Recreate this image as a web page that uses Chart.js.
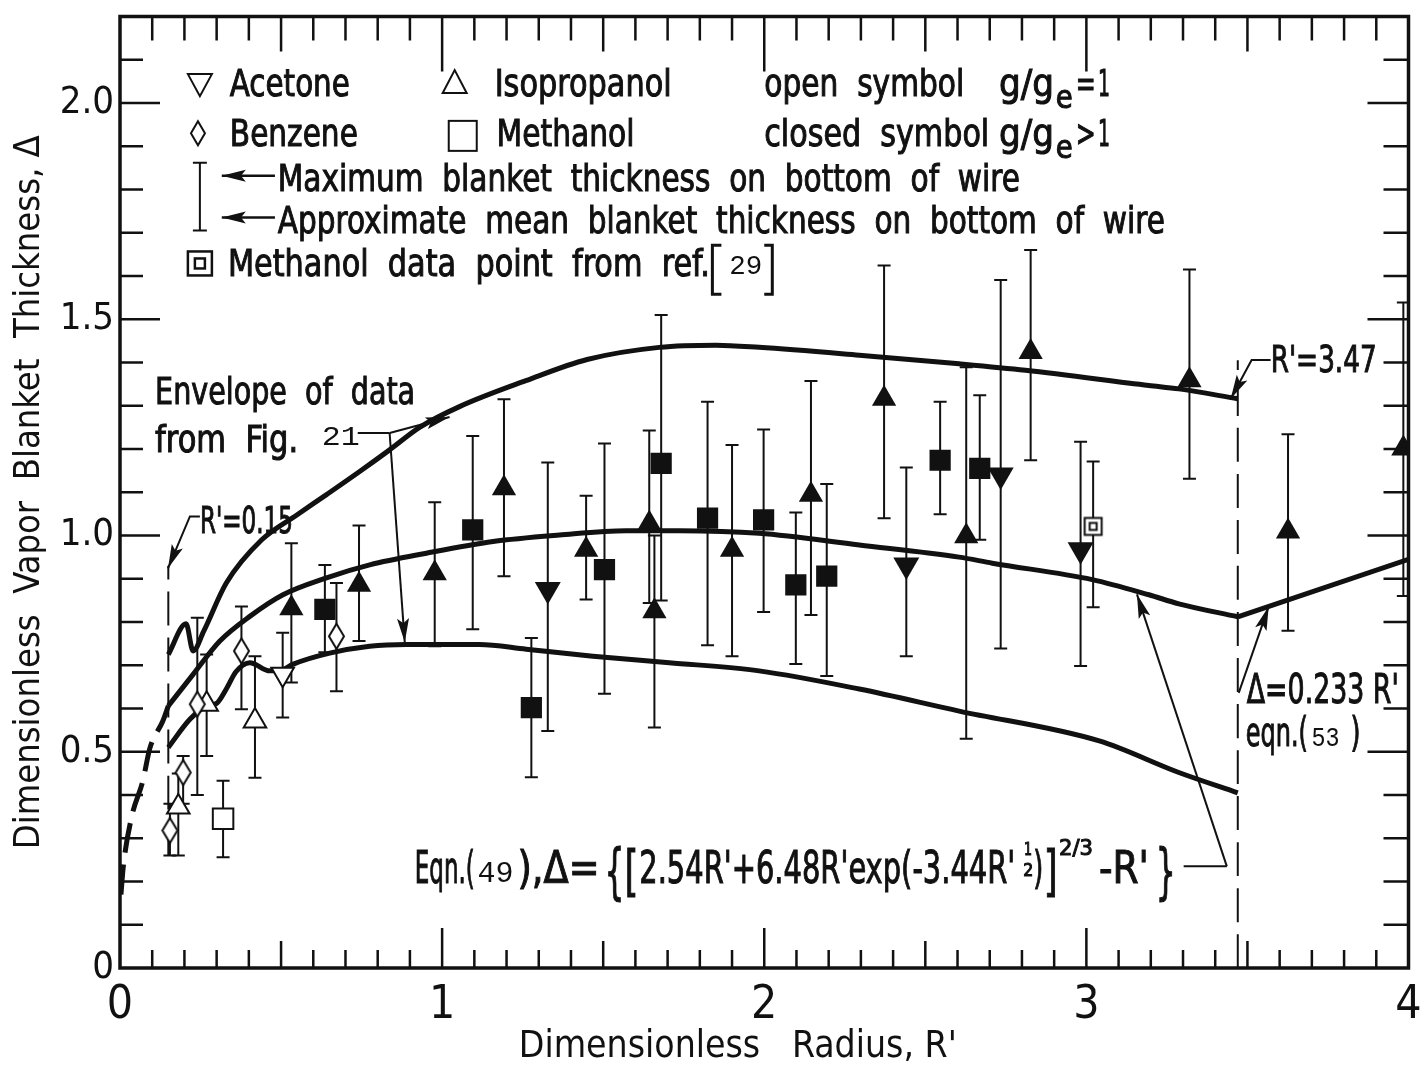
<!DOCTYPE html>
<html><head><meta charset="utf-8">
<script src="https://cdn.jsdelivr.net/npm/chart.js@4.4.1/dist/chart.umd.min.js"></script>
<style>
html,body{margin:0;padding:0;background:#fff;}
#wrap{width:1425px;height:1070px;}
canvas{display:block;}
</style></head><body>
<div id="wrap"><canvas id="c" width="1425" height="1070"></canvas></div>
<script>
// ---------------- data ----------------
// open symbols (g/ge = 1)
const acetoneOpenR = [0.505];
const acetoneOpenD = [0.679];
const acetoneOpenLo = [0.579];
const acetoneOpenHi = [0.775];

const benzeneOpenR = [0.155, 0.196, 0.240, 0.377, 0.672];
const benzeneOpenD = [0.318, 0.452, 0.610, 0.733, 0.767];
const benzeneOpenLo = [0.260, 0.380, 0.400, 0.598, 0.640];
const benzeneOpenHi = [0.380, 0.490, 0.810, 0.836, 0.890];

const isoOpenR = [0.181, 0.269, 0.419];
const isoOpenD = [0.372, 0.610, 0.571];
const isoOpenLo = [0.260, 0.490, 0.440];
const isoOpenHi = [0.450, 0.725, 0.721];

const methOpenR = [0.320];
const methOpenD = [0.345];
const methOpenLo = [0.256];
const methOpenHi = [0.433];

const methRefR = [3.021];
const methRefD = [1.021];
const methRefLo = [0.834];
const methRefHi = [1.171];

// closed symbols (g/ge > 1)
const acetoneClosedR = [1.328, 2.441, 2.734, 2.982];
const acetoneClosedD = [0.875, 0.932, 1.140, 0.967];
const acetoneClosedLo = [0.548, 0.721, 0.739, 0.698];
const acetoneClosedHi = [1.169, 1.157, 1.591, 1.217];

const isoClosedR = [0.532, 0.742, 0.977, 1.192, 1.447, 1.643, 1.659, 1.900, 2.145, 2.372, 2.627, 2.827, 3.320, 3.626, 3.984];
const isoClosedD = [0.832, 0.886, 0.913, 1.109, 0.967, 1.028, 0.825, 0.967, 1.094, 1.316, 0.998, 1.424, 1.359, 1.009, 1.201];
const isoClosedLo = [0.660, 0.756, 0.744, 0.906, 0.852, 0.844, 0.556, 0.721, 0.816, 1.040, 0.530, 1.174, 1.131, 0.780, 0.860];
const isoClosedHi = [0.982, 1.023, 1.077, 1.315, 1.092, 1.243, 1.000, 1.209, 1.357, 1.624, 1.389, 1.660, 1.615, 1.234, 1.539];

const methClosedR = [0.636, 1.095, 1.277, 1.504, 1.680, 1.824, 1.998, 2.098, 2.194, 2.546, 2.669];
const methClosedD = [0.829, 1.013, 0.602, 0.921, 1.167, 1.040, 1.036, 0.886, 0.906, 1.174, 1.155];
const methClosedLo = [0.730, 0.783, 0.441, 0.634, 0.850, 0.746, 0.823, 0.703, 0.675, 1.049, 0.990];
const methClosedHi = [0.932, 1.230, 0.763, 1.213, 1.510, 1.309, 1.245, 1.053, 1.119, 1.309, 1.324];

// curves
const upperR = [0.150, 0.205, 0.227, 0.260, 0.330, 0.440, 0.550, 0.640, 0.744, 0.837, 0.930, 1.054, 1.260, 1.450, 1.674, 1.850, 1.984, 2.295, 2.605, 2.811, 3.194, 3.287, 3.470];
const upperD = [0.725, 0.796, 0.733, 0.779, 0.890, 0.990, 1.048, 1.094, 1.148, 1.198, 1.250, 1.298, 1.358, 1.407, 1.435, 1.440, 1.435, 1.417, 1.397, 1.382, 1.347, 1.339, 1.316];

const eqn49R = [0.150, 0.227, 0.310, 0.403, 0.506, 0.641, 0.775, 0.951, 1.158, 1.364, 1.571, 1.736, 1.984, 2.295, 2.605, 2.708, 3.018, 3.194, 3.287, 3.470];
const eqn49D = [0.606, 0.679, 0.756, 0.813, 0.863, 0.902, 0.932, 0.959, 0.986, 1.001, 1.011, 1.011, 1.005, 0.978, 0.950, 0.936, 0.898, 0.863, 0.842, 0.812];

const eqn49DashR = [0.003, 0.010, 0.036, 0.071, 0.093, 0.133, 0.150];
const eqn49DashD = [0.170, 0.233, 0.349, 0.433, 0.509, 0.571, 0.606];

const lowerR = [0.150, 0.217, 0.269, 0.300, 0.330, 0.360, 0.403, 0.465, 0.505, 0.536, 0.651, 0.775, 0.889, 1.116, 1.261, 1.468, 1.705, 1.984, 2.295, 2.605, 3.040, 3.287, 3.470];
const lowerD = [0.510, 0.575, 0.606, 0.612, 0.645, 0.685, 0.706, 0.687, 0.690, 0.702, 0.728, 0.744, 0.748, 0.748, 0.737, 0.721, 0.706, 0.687, 0.645, 0.594, 0.525, 0.452, 0.405];

const eqn53R = [3.47, 4.0];
const eqn53D = [0.812, 0.945];

const mark015R = [0.15, 0.15];
const mark015D = [0.26, 0.93];
const mark347R = [3.47, 3.47];
const mark347D = [0.0, 1.405];

// axes
const xTickValues = [0, 1, 2, 3, 4];
const xTickLabels = ['0', '1', '2', '3', '4'];
const yTickValues = [0, 0.5, 1.0, 1.5, 2.0];
const yTickLabels = ['0', '0.5', '1.0', '1.5', '2.0'];
const xTitle = 'Dimensionless   Radius, R\'     ';
const yTitle = 'Dimensionless  Vapor  Blanket  Thickness, Δ';

// ---------------- rendering ----------------
const FONT = '"Liberation Sans Narrow", "DejaVu Sans Condensed", "Liberation Sans", "DejaVu Sans", sans-serif';
const MONO = '"Liberation Mono", "DejaVu Sans Mono", monospace';
const INK = '#111';

const xy = (R, D) => R.map((r, i) => ({x: r, y: D[i]}));

function makeDiamond(w, h, lw) {
  const c = document.createElement('canvas'); c.width = w + 4; c.height = h + 4;
  const g = c.getContext('2d'); g.lineWidth = lw; g.strokeStyle = INK; g.fillStyle = '#fff';
  g.beginPath(); g.moveTo(c.width/2, 2); g.lineTo(c.width-2, c.height/2); g.lineTo(c.width/2, c.height-2); g.lineTo(2, c.height/2); g.closePath();
  g.fill(); g.stroke(); return c;
}
function makeDoubleSquare(s, si, lw) {
  const c = document.createElement('canvas'); c.width = s + 4; c.height = s + 4;
  const g = c.getContext('2d'); g.lineWidth = lw; g.strokeStyle = INK; g.fillStyle = '#fff';
  g.fillRect(2, 2, s, s); g.strokeRect(2.5, 2.5, s-1, s-1);
  const o = (c.width - si) / 2; g.strokeRect(o, o, si, si); return c;
}
const diamondImg = makeDiamond(15, 25, 2);
const dblSquareImg = makeDoubleSquare(18, 7, 2);

function pts(label, R, D, lo, hi, style) {
  return Object.assign({label, data: xy(R, D), showLine: false, errLo: lo, errHi: hi,
    pointBorderColor: INK, pointBorderWidth: 2, pointHoverRadius: 0}, style);
}
function curve(label, R, D, style) {
  return Object.assign({label, data: xy(R, D), showLine: true, pointRadius: 0, pointHoverRadius: 0,
    borderColor: INK, borderWidth: 5, fill: false, cubicInterpolationMode: 'monotone'}, style);
}

const datasets = [
  pts('Acetone (open)', acetoneOpenR, acetoneOpenD, acetoneOpenLo, acetoneOpenHi, {pointStyle: 'triangle', pointRotation: 180, pointRadius: 13, pointBackgroundColor: '#fff'}),
  pts('Benzene (open)', benzeneOpenR, benzeneOpenD, benzeneOpenLo, benzeneOpenHi, {pointStyle: diamondImg, pointRadius: 12}),
  pts('Isopropanol (open)', isoOpenR, isoOpenD, isoOpenLo, isoOpenHi, {pointStyle: 'triangle', pointRadius: 13, pointBackgroundColor: '#fff'}),
  pts('Methanol (open)', methOpenR, methOpenD, methOpenLo, methOpenHi, {pointStyle: 'rect', pointRadius: 14.5, pointBackgroundColor: '#fff'}),
  pts('Methanol ref. 29', methRefR, methRefD, methRefLo, methRefHi, {pointStyle: dblSquareImg, pointRadius: 10}),
  pts('Acetone (closed)', acetoneClosedR, acetoneClosedD, acetoneClosedLo, acetoneClosedHi, {pointStyle: 'triangle', pointRotation: 180, pointRadius: 15, pointBackgroundColor: INK, pointBorderWidth: 0}),
  pts('Isopropanol (closed)', isoClosedR, isoClosedD, isoClosedLo, isoClosedHi, {pointStyle: 'triangle', pointRadius: 14, pointBackgroundColor: INK, pointBorderWidth: 0}),
  pts('Methanol (closed)', methClosedR, methClosedD, methClosedLo, methClosedHi, {pointStyle: 'rect', pointRadius: 15, pointBackgroundColor: INK, pointBorderWidth: 0}),
  curve('Upper envelope (Fig. 21)', upperR, upperD, {}),
  curve('Eqn. (49)', eqn49R, eqn49D, {}),
  curve('Eqn. (49) extension', eqn49DashR, eqn49DashD, {borderDash: [30, 12]}),
  curve('Lower envelope (Fig. 21)', lowerR, lowerD, {}),
  curve('Eqn. (53)', eqn53R, eqn53D, {cubicInterpolationMode: 'default', tension: 0}),
  curve("R'=0.15", mark015R, mark015D, {borderWidth: 2, borderDash: [34, 12], tension: 0}),
  curve("R'=3.47", mark347R, mark347D, {borderWidth: 2, borderDash: [34, 12], tension: 0})
];

function fitText(c, str, px, py, w, size, fam, thick) {
  c.font = `${size}px ${fam || FONT}`;
  const m = c.measureText(str).width || 1;
  c.save(); c.translate(px, py); c.scale(w / m, 1);
  c.fillText(str, 0, 0);
  if (thick) { c.lineWidth = thick; c.strokeText(str, 0, 0); }
  c.restore();
}
function arrow(c, pts, len, hw) {
  len = len || 22; hw = hw || 6;
  c.beginPath(); c.moveTo(pts[0][0], pts[0][1]);
  for (let i = 1; i < pts.length; i++) c.lineTo(pts[i][0], pts[i][1]);
  c.stroke();
  const [x1, y1] = pts[pts.length - 2], [x2, y2] = pts[pts.length - 1];
  const a = Math.atan2(y2 - y1, x2 - x1);
  c.beginPath(); c.moveTo(x2, y2);
  c.lineTo(x2 - len*Math.cos(a) + hw*Math.sin(a), y2 - len*Math.sin(a) - hw*Math.cos(a));
  c.lineTo(x2 - len*0.8*Math.cos(a), y2 - len*0.8*Math.sin(a));
  c.lineTo(x2 - len*Math.cos(a) - hw*Math.sin(a), y2 - len*Math.sin(a) + hw*Math.cos(a));
  c.closePath(); c.fill();
}

const errorBars = {
  id: 'errorBars',
  beforeDatasetsDraw(chart) {
    const {ctx: c, scales: {x, y}} = chart;
    c.save(); c.strokeStyle = INK; c.lineWidth = 2;
    chart.data.datasets.forEach(ds => {
      if (!ds.errLo) return;
      ds.data.forEach((p, i) => {
        const px = x.getPixelForValue(p.x), yl = y.getPixelForValue(ds.errLo[i]), yh = y.getPixelForValue(ds.errHi[i]);
        c.beginPath(); c.moveTo(px, yl); c.lineTo(px, yh);
        c.moveTo(px - 6.5, yl); c.lineTo(px + 6.5, yl);
        c.moveTo(px - 6.5, yh); c.lineTo(px + 6.5, yh);
        c.stroke();
      });
    });
    c.restore();
  }
};

const decorations = {
  id: 'decorations',
  afterDatasetsDraw(chart) {
    const {ctx: c, scales: {x, y}} = chart;
    const P = (r, d) => [x.getPixelForValue(r), y.getPixelForValue(d)];
    const T = (str, r, d, w, size, fam) => { const [px, py] = P(r, d); fitText(c, str, px, py, w, size, fam, fam ? 0 : 1); };
    c.save();
    c.fillStyle = INK; c.strokeStyle = INK; c.textBaseline = 'alphabetic'; c.textAlign = 'left';

    // ---- legend ----
    c.lineWidth = 2;
    let [lx, ly] = P(0.248, 2.046); // open inverted triangle
    c.beginPath(); c.moveTo(lx - 12, ly - 9); c.lineTo(lx + 12, ly - 9); c.lineTo(lx, ly + 13); c.closePath(); c.stroke();
    T('Acetone', 0.341, 2.016, 120, 38);
    [lx, ly] = P(1.039, 2.046); // open triangle
    c.lineWidth = 2;
    c.beginPath(); c.moveTo(lx - 12, ly + 10); c.lineTo(lx + 12, ly + 10); c.lineTo(lx, ly - 13); c.closePath(); c.stroke();
    T('Isopropanol', 1.163, 2.016, 177, 38);
    T('open  symbol', 2.0, 2.016, 200, 38);
    T('g/g', 2.729, 2.016, 55, 38);
    T('e', 2.905, 1.988, 17, 32);
    T('=', 2.967, 2.016, 20, 38);
    T('1', 3.036, 2.016, 12, 38);

    c.lineWidth = 2;
    [lx, ly] = P(0.242, 1.93); // diamond
    c.beginPath(); c.moveTo(lx, ly - 12); c.lineTo(lx + 7, ly); c.lineTo(lx, ly + 12); c.lineTo(lx - 7, ly); c.closePath(); c.stroke();
    T('Benzene', 0.341, 1.901, 128, 38);
    c.lineWidth = 2;
    [lx, ly] = P(1.064, 1.924); // open square
    c.strokeRect(lx - 14, ly - 15, 28, 30);
    T('Methanol', 1.169, 1.901, 138, 38);
    T('closed  symbol', 2.0, 1.901, 225, 38);
    T('g/g', 2.729, 1.901, 55, 38);
    T('e', 2.905, 1.873, 17, 32);
    T('>', 2.967, 1.901, 20, 38);
    T('1', 3.036, 1.901, 12, 38);

    // error bar glyph + arrows
    c.lineWidth = 2;
    const [bx, bt] = P(0.248, 1.862), [, bb] = P(0.248, 1.705);
    c.beginPath(); c.moveTo(bx, bt); c.lineTo(bx, bb); c.moveTo(bx - 7, bt); c.lineTo(bx + 7, bt); c.moveTo(bx - 7, bb); c.lineTo(bx + 7, bb); c.stroke();
    c.lineWidth = 2.5;
    arrow(c, [P(0.481, 1.832), P(0.316, 1.832)], 24, 6);
    arrow(c, [P(0.481, 1.735), P(0.316, 1.735)], 24, 6);
    T('Maximum  blanket  thickness  on  bottom  of  wire', 0.490, 1.797, 742, 38);
    T('Approximate  mean  blanket  thickness  on  bottom  of  wire', 0.490, 1.700, 887, 38);

    // methanol ref symbol
    [lx, ly] = P(0.248, 1.629);
    c.lineWidth = 2.5; c.strokeRect(lx - 12, ly - 12, 24, 24); c.strokeRect(lx - 5, ly - 5, 10, 10);
    T('Methanol  data  point  from  ref.', 0.335, 1.601, 482, 38);
    c.lineWidth = 3;
    let q = [P(1.867, 1.671), P(1.839, 1.671), P(1.839, 1.558), P(1.867, 1.558)];
    c.beginPath(); q.forEach((p, i) => i ? c.lineTo(p[0], p[1]) : c.moveTo(p[0], p[1])); c.stroke();
    q = [P(2.0, 1.671), P(2.025, 1.671), P(2.025, 1.558), P(2.0, 1.558)];
    c.beginPath(); q.forEach((p, i) => i ? c.lineTo(p[0], p[1]) : c.moveTo(p[0], p[1])); c.stroke();
    T('29', 1.891, 1.604, 33, 28, MONO);

    // ---- annotations ----
    c.lineWidth = 2;
    T("R'=0.15", 0.248, 1.005, 93, 38);
    c.lineWidth = 2;
    arrow(c, [P(0.248, 1.044), P(0.217, 1.044), P(0.149, 0.924)], 24, 6);

    T('Envelope  of  data', 0.109, 1.304, 260, 38);
    T('from  Fig.', 0.109, 1.194, 143, 38);
    T('21', 0.626, 1.210, 38, 28, MONO);
    c.lineWidth = 2;
    c.beginPath(); c.moveTo(...P(0.738, 1.237)); c.lineTo(...P(0.837, 1.237)); c.stroke();
    arrow(c, [P(0.837, 1.237), P(1.023, 1.274)], 24, 6);
    arrow(c, [P(0.837, 1.237), P(0.884, 0.753)], 24, 6);

    T("R'=3.47", 3.572, 1.378, 106, 38);
    c.lineWidth = 2;
    arrow(c, [P(3.572, 1.406), P(3.513, 1.406), P(3.448, 1.316)], 24, 6);

    T("Δ=0.233 R'", 3.498, 0.613, 152, 40);
    T('eqn.(', 3.495, 0.514, 62, 40);
    T('53', 3.699, 0.514, 28, 28, MONO);
    T(')', 3.820, 0.514, 10, 40);
    c.lineWidth = 2;
    arrow(c, [P(3.473, 0.636), P(3.566, 0.836)], 24, 6);

    // equation 49
    T('Eqn.(', 0.915, 0.196, 60, 44);
    T('49', 1.110, 0.198, 36, 30, MONO);
    T('),Δ=', 1.234, 0.196, 82, 44);
    T('{', 1.504, 0.176, 20, 60);
    T('[', 1.566, 0.180, 14, 56);
    T("2.54R'+6.48R'exp(-3.44R'", 1.612, 0.196, 376, 44);
    T('1', 2.806, 0.262, 8, 18);
    T('2', 2.804, 0.213, 10, 18);
    T(')', 2.835, 0.196, 10, 44);
    T(']', 2.868, 0.180, 14, 56);
    T('2/3', 2.915, 0.262, 34, 22);
    T("-R'", 3.039, 0.196, 50, 44);
    T('}', 3.215, 0.176, 20, 60);
    c.lineWidth = 2;
    c.beginPath(); c.moveTo(...P(3.302, 0.235)); c.lineTo(...P(3.436, 0.235)); c.stroke();
    arrow(c, [P(3.436, 0.235), P(3.157, 0.864)], 24, 6);
    c.restore();
  },
  afterDraw(chart) {
    const {ctx: c, chartArea: a, scales: {x, y}} = chart;
    c.save(); c.strokeStyle = INK; c.lineWidth = 2.5;
    c.beginPath();
    for (let k = 1; k < 40; k++) {
      const px = x.getPixelForValue(k / 10);
      const maj = k % 10 === 0, half = k % 5 === 0;
      const lb = maj ? 40 : half ? 27 : 18, lt = maj ? 55 : half ? 35 : 24;
      c.moveTo(px, a.bottom); c.lineTo(px, a.bottom - lb);
      c.moveTo(px, a.top); c.lineTo(px, a.top + lt);
    }
    for (let k = 1; k <= 22; k++) {
      const py = y.getPixelForValue(k / 10);
      const half = k % 5 === 0;
      c.moveTo(a.left, py); c.lineTo(a.left + (half ? 40 : 23), py);
      c.moveTo(a.right, py); c.lineTo(a.right - (half ? 41 : 25), py);
    }
    c.stroke();
    c.lineWidth = 3.5;
    c.strokeRect(a.left, a.top, a.right - a.left, a.bottom - a.top);
    c.restore();
  }
};

new Chart(document.getElementById('c').getContext('2d'), {
  type: 'scatter',
  data: {datasets},
  options: {
    responsive: false, animation: false, devicePixelRatio: 1,
    layout: {padding: {top: 13, right: 15, left: 0, bottom: 0}},
    plugins: {legend: {display: false}, tooltip: {enabled: false}},
    events: [],
    scales: {
      x: {
        type: 'linear', min: 0, max: 4,
        afterFit(s) { s.height = 102; s.paddingLeft = 0; s.paddingRight = 0; },
        afterBuildTicks(s) { s.ticks = xTickValues.map(v => ({value: v})); },
        grid: {display: false, drawTicks: false}, border: {display: false},
        ticks: {autoSkip: false, maxRotation: 0, padding: 10, color: INK,
          font: {family: FONT, size: 46}, callback: (v) => xTickLabels[xTickValues.indexOf(v)]},
        title: {display: true, text: xTitle, color: INK, font: {family: FONT, size: 37}, padding: {top: 0, bottom: 0}}
      },
      y: {
        type: 'linear', min: 0, max: 2.2,
        afterFit(s) { s.width = 120; s.paddingTop = 0; s.paddingBottom = 0; },
        afterBuildTicks(s) { s.ticks = yTickValues.map(v => ({value: v})); },
        grid: {display: false, drawTicks: false}, border: {display: false},
        ticks: {autoSkip: false, padding: 6, color: INK,
          font: {family: FONT, size: 38}, callback: (v) => yTickLabels[yTickValues.indexOf(v)]},
        title: {display: true, text: yTitle, color: INK, font: {family: FONT, size: 36}, padding: {top: 8, bottom: 0}}
      }
    }
  },
  plugins: [errorBars, decorations]
});
</script>
</body></html>
